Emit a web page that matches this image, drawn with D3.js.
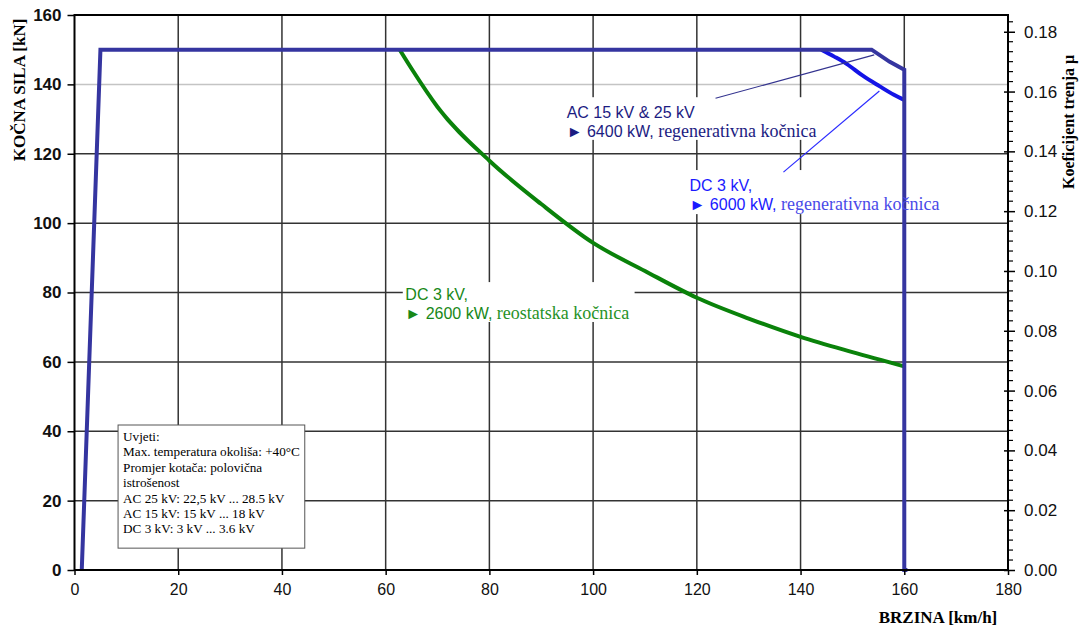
<!DOCTYPE html>
<html>
<head>
<meta charset="utf-8">
<script src="https://cdn.jsdelivr.net/npm/d3@7"></script>
<style>
  body { margin: 0; background: #fff; }
  svg { display: block; }
</style>
</head>
<body>
<svg id="chart" width="1083" height="626"></svg>
<script>
// --- data ---
const speedTicks = [0, 20, 40, 60, 80, 100, 120, 140, 160, 180];
const forceTicks = [0, 20, 40, 60, 80, 100, 120, 140, 160];
const muTicks = [0, 0.02, 0.04, 0.06, 0.08, 0.10, 0.12, 0.14, 0.16, 0.18];

// AC 15 kV & 25 kV, 6400 kW regenerative
const acSpeed = [1.4, 5, 153.7, 157.2, 160, 160, 160.6];
const acForce = [0, 150, 150, 146.5, 144.2, 0, 0];

// DC 3 kV, 6000 kW regenerative
const dcRegenSpeed = [144, 146.5, 148.8, 152, 155.2, 158, 160];
const dcRegenForce = [150, 148, 146, 142.5, 139.5, 137, 135.5];

// DC 3 kV, 2600 kW rheostatic
const dcRheoSpeed = [62.7, 65, 70, 80, 90, 100, 110, 120, 130, 140, 150, 160];
const dcRheoForce = [150, 144.5, 133.5, 118, 105.5, 94.3, 86.2, 78.5, 72.5, 67.2, 62.8, 58.7];

const conditions = [
  "Uvjeti:",
  "Max. temperatura okoliša: +40°C",
  "Promjer kotača: polovična",
  "istrošenost",
  "AC 25 kV: 22,5 kV ... 28.5 kV",
  "AC 15 kV: 15 kV ... 18 kV",
  "DC 3 kV: 3 kV ... 3.6 kV"
];

const svg = d3.select("#chart");
const sans = "'Liberation Sans', Arial, sans-serif";
const serif = "'Liberation Serif', 'Times New Roman', serif";

const plotL = 74.5, plotR = 1008, plotT = 15, plotB = 570;

const x = d3.scaleLinear().domain([0, 180]).range([plotL, plotR]);
const y = d3.scaleLinear().domain([0, 160]).range([plotB, plotT]);
const y2 = d3.scaleLinear().domain([0, 0.1856]).range([plotB, plotT]);

// grid
const grid = svg.append("g");
grid.selectAll(".hg")
    .data(forceTicks.filter(d => d > 0 && d < 160))
    .enter().append("line")
    .attr("x1", plotL).attr("x2", plotR)
    .attr("y1", d => y(d)).attr("y2", d => y(d))
    .attr("stroke", d => d === 140 ? "#c4c4c4" : "#333")
    .attr("stroke-width", 1.5);
grid.selectAll(".vg")
    .data(speedTicks.filter(d => d > 0 && d < 180))
    .enter().append("line")
    .attr("x1", d => x(d)).attr("x2", d => x(d))
    .attr("y1", plotT).attr("y2", plotB)
    .attr("stroke", "#333")
    .attr("stroke-width", 1.5);

// white backgrounds of the labels
const boxes = [
  { x0: 94.1, x1: 140.9, y0: 136.3, y1: 124 },
  { x0: 117.8, x1: 167.1, y0: 115.3, y1: 102.6 },
  { x0: 63.3, x1: 108, y0: 83, y1: 71.5 }
];
svg.append("g").selectAll("rect")
    .data(boxes)
    .enter().append("rect")
    .attr("x", d => x(d.x0))
    .attr("y", d => y(d.y0))
    .attr("width", d => x(d.x1) - x(d.x0))
    .attr("height", d => y(d.y1) - y(d.y0))
    .attr("fill", "#fff");

// curves
const toPts = (xs, ys) => xs.map((v, i) => [v, ys[i]]);
const line = d3.line().x(d => x(d[0])).y(d => y(d[1]));
const smooth = d3.line().x(d => x(d[0])).y(d => y(d[1])).curve(d3.curveMonotoneX);

svg.append("path")
    .datum(toPts(dcRheoSpeed, dcRheoForce))
    .attr("d", smooth)
    .attr("fill", "none")
    .attr("stroke", "#0a820a")
    .attr("stroke-width", 4);

svg.append("path")
    .datum(toPts(dcRegenSpeed, dcRegenForce))
    .attr("d", smooth)
    .attr("fill", "none")
    .attr("stroke", "#1414e6")
    .attr("stroke-width", 4);

svg.append("path")
    .datum(toPts(acSpeed, acForce))
    .attr("d", line)
    .attr("fill", "none")
    .attr("stroke", "#3535a0")
    .attr("stroke-width", 4)
    .attr("stroke-linejoin", "miter");

// leader lines
svg.append("line")
    .attr("x1", x(123.6)).attr("y1", y(136))
    .attr("x2", x(154.2)).attr("y2", y(148.5))
    .attr("stroke", "#33338f").attr("stroke-width", 1.2);
svg.append("line")
    .attr("x1", x(136.7)).attr("y1", y(114.7))
    .attr("x2", x(155.2)).attr("y2", y(138.1))
    .attr("stroke", "#2a2aff").attr("stroke-width", 1.2);

// labels
function label(sx, fy, head, val, tail, cHead, cTail) {
  svg.append("text")
      .attr("x", x(sx)).attr("y", y(fy))
      .attr("font-family", sans).attr("font-size", 16)
      .attr("fill", cHead)
      .text(head);
  const t2 = svg.append("text")
      .attr("x", x(sx)).attr("y", y(fy) + 19)
      .attr("font-size", 16);
  t2.append("tspan")
      .attr("font-family", sans).attr("fill", cHead)
      .text(val);
  t2.append("tspan")
      .attr("font-family", serif).attr("fill", cTail)
      .attr("font-size", 18)
      .text(tail);
}
label(94.9, 130.3, "AC 15 kV & 25 kV", "► 6400 kW,", " regenerativna kočnica", "#1c1c82", "#1c1c82");
label(118.6, 109.4, "DC 3 kV,", "► 6000 kW,", " regenerativna kočnica", "#1a1aff", "#4a4ae8");
label(63.8, 77.7, "DC 3 kV,", "► 2600 kW,", " reostatska kočnica", "#188818", "#279227");

// conditions box
const cb = svg.append("g");
cb.append("rect")
    .attr("x", x(8.4)).attr("y", y(41.8))
    .attr("width", x(44.4) - x(8.4))
    .attr("height", y(6.3) - y(41.8))
    .attr("fill", "#fff")
    .attr("stroke", "#555")
    .attr("stroke-width", 1);
cb.selectAll("text")
    .data(conditions)
    .enter().append("text")
    .attr("x", x(8.4) + 5)
    .attr("y", (d, i) => y(41.8) + 16 + i * 15.4)
    .attr("font-family", serif)
    .attr("font-size", 13.2)
    .attr("fill", "#000")
    .text(d => d);

// frame / axes
svg.append("rect")
    .attr("x", plotL).attr("y", plotT)
    .attr("width", plotR - plotL).attr("height", plotB - plotT)
    .attr("fill", "none")
    .attr("stroke", "#000")
    .attr("stroke-width", 2);

const yAxis = svg.append("g")
    .attr("transform", `translate(${plotL},0)`)
    .call(d3.axisLeft(y).tickValues(forceTicks).tickSize(7).tickPadding(6));
yAxis.select(".domain").remove();
yAxis.selectAll("text")
    .attr("font-family", sans).attr("font-size", 17).attr("font-weight", "bold").attr("fill", "#111");
yAxis.selectAll("line").attr("stroke", "#000").attr("stroke-width", 1.5);

const xAxis = svg.append("g")
    .attr("transform", `translate(0,${plotB})`)
    .call(d3.axisBottom(x).tickValues(speedTicks).tickSize(5).tickPadding(9));
xAxis.select(".domain").remove();
xAxis.selectAll("text")
    .attr("font-family", sans).attr("font-size", 16).attr("fill", "#111");
xAxis.selectAll("line").attr("stroke", "#000").attr("stroke-width", 1.5);

// right axis: minor ticks, then major ticks crossing the line
const minor = d3.range(0, 0.1856, 0.02 / 6).filter(v => Math.abs(v * 50 - Math.round(v * 50)) > 1e-6);
svg.append("g").selectAll("line")
    .data(minor)
    .enter().append("line")
    .attr("x1", plotR).attr("x2", plotR + 5)
    .attr("y1", d => y2(d)).attr("y2", d => y2(d))
    .attr("stroke", "#000").attr("stroke-width", 1.2);
const rAxis = svg.append("g")
    .attr("transform", `translate(${plotR},0)`)
    .call(d3.axisRight(y2).tickValues(muTicks).tickFormat(d3.format(".2f")).tickSize(7).tickPadding(9));
rAxis.select(".domain").remove();
rAxis.selectAll("line").attr("x1", -4).attr("stroke", "#000").attr("stroke-width", 1.5);
rAxis.selectAll("text")
    .attr("font-family", sans).attr("font-size", 17).attr("fill", "#111");

// axis titles
svg.append("text")
    .attr("transform", `translate(25,${90}) rotate(-90)`)
    .attr("text-anchor", "middle")
    .attr("font-family", serif).attr("font-weight", "bold").attr("font-size", 17)
    .text("KOČNA SILA [kN]");
svg.append("text")
    .attr("transform", `translate(1074,${122}) rotate(-90)`)
    .attr("text-anchor", "middle")
    .attr("font-family", serif).attr("font-weight", "bold").attr("font-size", 16)
    .text("Koeficijent trenja μ");
svg.append("text")
    .attr("x", 938).attr("y", 623)
    .attr("text-anchor", "middle")
    .attr("font-family", serif).attr("font-weight", "bold").attr("font-size", 17)
    .text("BRZINA [km/h]");
</script>
</body>
</html>
